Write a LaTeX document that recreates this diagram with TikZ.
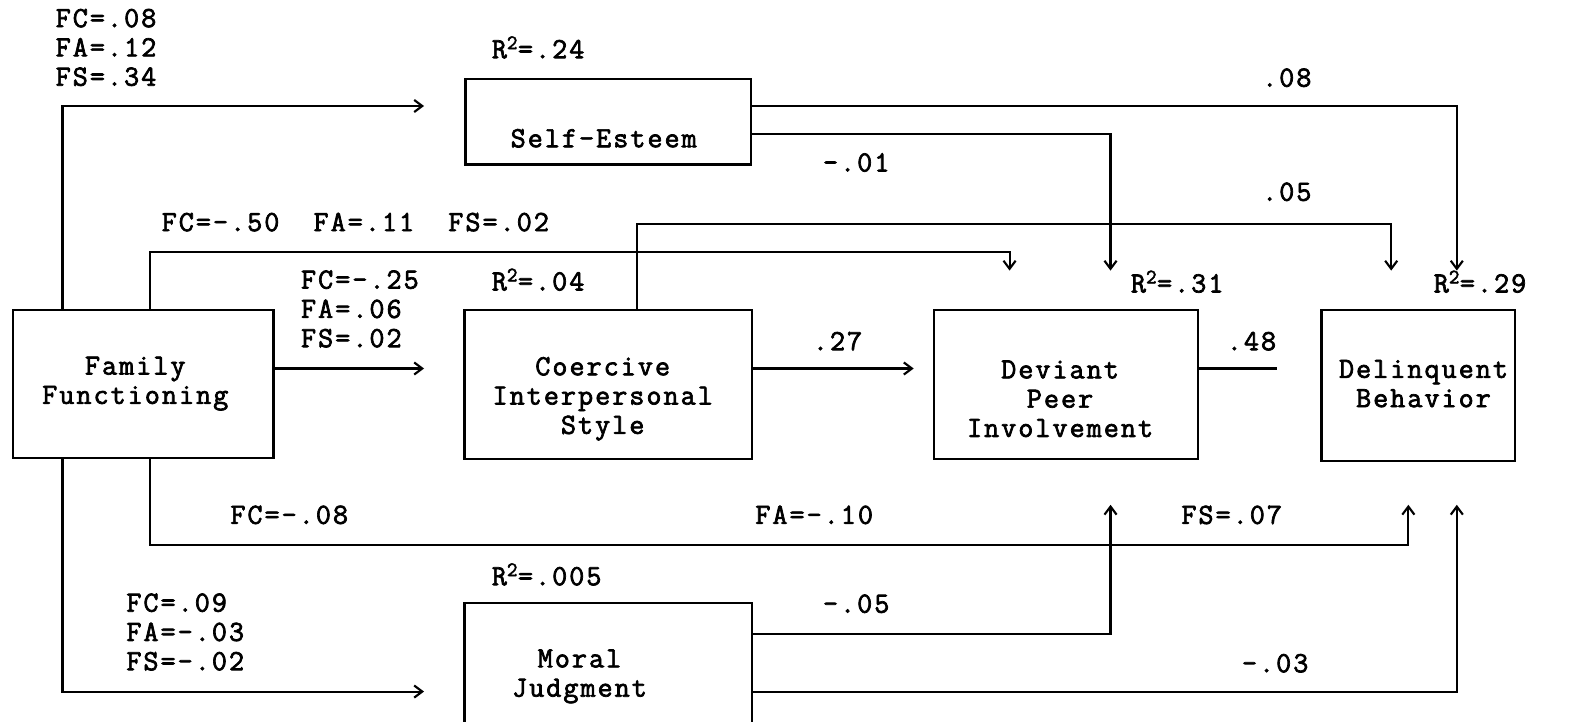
\documentclass[tikz,border=0pt]{standalone}
\usepackage{fontspec}
\setmonofont[FakeBold=2.4, LetterSpace=6.9]{Latin Modern Mono}
\usetikzlibrary{arrows.meta}
\newcommand\lblfont{\fontsize{29}{29}\selectfont\ttfamily}
\begin{document}
\begin{tikzpicture}[x=1pt,y=-1pt,
  box/.style={draw, line width=2.2pt, inner sep=0pt},
  conn/.style={line width=2.1pt},
  arr/.style={conn, -{Straight Barb[length=8pt,width=12pt,line width=2.1pt]}},
  lab/.style={inner sep=0pt, anchor=west, font=\lblfont, align=left},
  txt/.style={inner sep=0pt, font=\lblfont, align=center}]
\useasboundingbox (0,0) rectangle (1568,715);
% boxes
\node[box, minimum width=258pt, minimum height=147pt] (ff) at (142,380.5) {};
\node[box, minimum width=283pt, minimum height=85pt] (se) at (602.5,120.5) {};
\node[box, minimum width=285pt, minimum height=148pt] (cis) at (602.5,381) {};
\node[box, minimum width=262pt, minimum height=148pt] (dpi) at (1056,381) {};
\node[box, minimum width=192pt, minimum height=150pt] (db) at (1405,382) {};
\node[box, minimum width=285pt, minimum height=140pt] (mj) at (602.5,667) {};
% box texts
\node[txt] (fft) at (134,380) {Family\\Functioning};
\node[txt] (set) at (598,137) {Self-Esteem};
\node[txt] (cist) at (597,395) {Coercive\\Interpersonal\\Style};
\node[txt] (dpit) at (1050,395) {Deviant\\Peer\\Involvement};
\node[txt] (dbt) at (1410,380) {Delinquent\\Behavior};
\node[txt] (mjt) at (574,670) {Moral\\Judgment};
% free ends
\coordinate (t1) at (420,105);
\coordinate (t2) at (1000,268);
\coordinate (t3) at (420,365);
\coordinate (t4) at (1378,268);
\coordinate (t5) at (1443,268);
\coordinate (t6) at (1100,268);
\coordinate (t7) at (905,365);
\coordinate (e8) at (1265,365);
\coordinate (t9) at (1395,500);
\coordinate (t10) at (420,685);
\coordinate (t11) at (1100,500);
\coordinate (t12) at (1443,500);
% connectors
\draw[arr] ([xshift=50pt]ff.north west) |- (t1);
\draw[arr] ([xshift=137pt]ff.north west) |- (1000,250) -- (t2);
\draw[arr] ([yshift=15.5pt]ff.east) -- (t3);
\draw[arr] ([xshift=172pt]cis.north west) |- (1378,222) -- (t4);
\draw[arr] ([yshift=15.5pt]se.east) -| (t5);
\draw[arr] ([yshift=-12.5pt]se.east) -| (t6);
\draw[arr] ([yshift=16pt]cis.east) -- (t7);
\draw[conn] ([yshift=16pt]dpi.east) -- (e8);
\draw[arr] ([xshift=137pt]ff.south west) |- (1395,540) -- (t9);
\draw[arr] ([xshift=50pt]ff.south west) |- (t10);
\draw[arr] ([yshift=39pt]mj.east) -| (t11);
\draw[arr] ([yshift=-18pt]mj.east) -| (t12);
% labels
\node[lab] (l1) at (55,47) {FC=.08\\FA=.12\\FS=.34};
\node[lab] (r1) at (487,47) {R\textsuperscript{2}=.24};
\node[lab] (l2) at (160,220) {FC=-.50\ \ FA=.11\ \ FS=.02};
\node[lab] (l3) at (298,306) {FC=-.25\\FA=.06\\FS=.02};
\node[lab] (r2) at (487,277) {R\textsuperscript{2}=.04};
\node[lab] (l5) at (1250,77) {.08};
\node[lab] (l6) at (815,161) {-.01};
\node[lab] (l4) at (1250,190) {.05};
\node[lab] (r3) at (1120,279) {R\textsuperscript{2}=.31};
\node[lab] (r4) at (1420,279) {R\textsuperscript{2}=.29};
\node[lab] (l7) at (805,338) {.27};
\node[lab] (l8) at (1215,338) {.48};
\node[lab] (l9a) at (228,510) {FC=-.08};
\node[lab] (l9b) at (748,510) {FA=-.10};
\node[lab] (l9c) at (1170,510) {FS=.07};
\node[lab] (r5) at (487,569) {R\textsuperscript{2}=.005};
\node[lab] (l10) at (125,626) {FC=.09\\FA=-.03\\FS=-.02};
\node[lab] (l11) at (815,598) {-.05};
\node[lab] (l12) at (1230,657) {-.03};
\end{tikzpicture}
\end{document}
